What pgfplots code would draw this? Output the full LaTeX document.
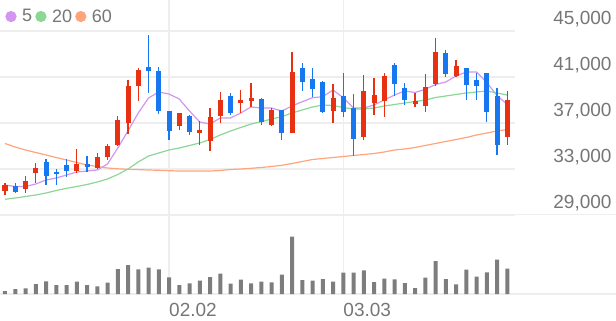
\documentclass[border=0pt]{standalone}
\usepackage{pgfplots}
\usepackage{pgfplotstable}
\pgfplotsset{compat=1.18}
\usepackage{fontspec}
\setmainfont{Liberation Sans}
\definecolor{upred}{RGB}{232,48,18}
\definecolor{downblue}{RGB}{22,119,238}
\definecolor{mafive}{RGB}{210,150,240}
\definecolor{matwenty}{RGB}{140,215,150}
\definecolor{masixty}{RGB}{255,165,125}
\definecolor{volgray}{RGB}{125,125,125}
\definecolor{gridgray}{RGB}{238,238,238}
\definecolor{labelgray}{RGB}{118,118,118}

\pgfplotstableread{
i o h l c v
0 31100 31800 30750 31600 30000
2 31300 32400 30900 32000 57000
3 32680 33520 31780 33110 100000
7 32850 34740 32630 33410 123000
9 33060 34390 32970 34070 77000
10 34040 35170 33800 35000 113000
11 35110 37580 34970 37290 250000
12 37000 40740 36040 40260 290000
13 40190 41780 38890 41640 247000
17 36740 37870 36390 37830 90000
19 36160 37170 35090 36430 133000
20 35460 38280 34590 37550 170000
21 37580 39720 37000 39000 203000
23 38740 39870 37840 39040 143000
24 38910 40520 38420 39150 107000
26 36830 38280 36780 38130 117000
28 36160 43200 36130 41460 573000
32 38040 40430 36970 39170 123000
35 35740 41170 35520 39810 237000
36 38770 40890 37700 39430 120000
37 38930 41320 37500 41060 153000
40 38650 39640 38420 38910 60000
41 38480 41260 37980 40160 163000
42 40350 44370 40260 43200 330000
44 41090 42440 41030 41960 97000
49 35780 39740 35090 39030 253000
}\up

\pgfplotstableread{
i o h l c v
1 31500 31800 30950 31000 50000
4 33580 33840 31610 32390 127000
5 32780 32960 31570 32570 90000
6 33350 33870 32330 32830 90000
8 33430 34170 32700 33200 90000
14 41870 44680 39610 41550 263000
15 41550 41840 37780 38020 247000
16 38020 38040 35550 36280 167000
18 37610 37700 35960 36260 107000
22 39320 39610 37700 37840 103000
25 39060 39150 36830 37110 123000
27 38130 38130 35520 36160 193000
29 41810 42190 39810 40590 140000
30 40830 41760 39290 40000 133000
31 40590 40650 37870 37980 150000
33 39320 41390 37550 37960 213000
34 38280 39520 34170 35610 213000
38 42040 42260 39350 40390 147000
39 40020 40480 38570 38960 110000
43 43110 43310 41030 41260 150000
45 41760 41760 39000 40310 243000
46 40700 41310 39000 40220 173000
47 41320 41390 37110 37960 217000
48 39320 40020 34260 35090 343000
}\down

\pgfplotstableread{
i m5 m20 m60
0 31609 30365 35218
1 31478 30478 34913
2 31478 30609 34652
3 31696 30739 34435
4 32044 30913 34218
5 32218 31131 34000
6 32478 31322 33783
7 32739 31478 33565
8 32826 31652 33348
9 32913 31870 33218
10 33435 32131 33087
11 34826 32522 33018
12 36305 33000 32974
13 37870 33609 32948
14 39174 34131 32913
15 39696 34392 32887
16 39522 34652 32852
17 39087 34826 32826
18 38044 35044 32826
19 37087 35261 32826
20 36913 35565 32826
21 37435 35957 32870
22 37435 36305 32957
23 37870 36609 33000
24 38392 36913 33061
25 38305 37113 33131
26 38305 37348 33218
27 38044 37548 33322
28 38479 37870 33478
29 38853 38131 33652
30 39200 38392 33826
31 39287 38566 33913
32 39870 38522 34000
33 39200 38348 34087
34 38305 38218 34174
35 38305 38218 34261
36 38566 38305 34348
37 39000 38479 34478
38 39435 38609 34652
39 39783 38740 34739
40 39653 38870 34870
41 39931 39000 35044
42 40348 39218 35218
43 40566 39348 35392
44 41087 39479 35565
45 41435 39609 35739
46 41435 39696 35957
47 40522 39783 36131
48 39392 39609 36305
49 38609 39435 36435
}\ma

\begin{document}
\begin{tikzpicture}
\useasboundingbox (0pt,0pt) rectangle (616pt,-321pt);
\draw[gridgray, line width=1.2pt] (0pt,-214.5pt) -- (616pt,-214.5pt);
\draw[gridgray, line width=1.2pt] (0pt,-294pt) -- (616pt,-294pt);
\begin{axis}[
  at={(0pt,0pt)}, anchor=north west,
  width=515pt, height=215pt, scale only axis,
  xmin=-0.4878, xmax=49.756,
  ymin=29000, ymax=47696,
  scaled y ticks=false, scaled x ticks=false,
  axis line style={draw=none},
  tick style={draw=none},
  xtick={16,33}, xticklabels={},
  xmajorgrids, ymajorgrids,
  grid style={gridgray, line width=1.2pt},
  ytick={29000,33000,37000,41000,45000},
  yticklabels={{29,000},{33,000},{37,000},{41,000},{45,000}},
  yticklabel pos=right,
  yticklabel style={anchor=base east, inner sep=0pt, xshift=96.7pt, yshift=7pt,
    font=\fontsize{19}{19}\selectfont, text=labelgray},
  clip=false,
  legend columns=-1,
  legend style={at={(0,1)}, anchor=north west, xshift=5.4pt, yshift=-9.5pt,
    draw=none, fill=none, inner sep=0pt, outer sep=0pt,
    font=\fontsize{18}{18}\selectfont, text=labelgray,
    nodes={inner sep=0pt},
    /tikz/every even column/.append style={column sep=3.2pt},
    /tikz/every odd column/.append style={column sep=5.5pt}},
  legend image code/.code={\fill (5pt,0pt) circle (5pt);},
]
\addplot[mafive, line width=1.2pt] table[x=i, y=m5] {\ma};
\addlegendentry{5\hspace{8pt}}
\addplot[matwenty, line width=1.2pt] table[x=i, y=m20] {\ma};
\addlegendentry{20}
\addplot[masixty, line width=1.2pt] table[x=i, y=m60] {\ma};
\addlegendentry{60}
% wicks
\addplot[draw=none, mark=none, forget plot,
  error bars/.cd, y dir=both, y explicit, error mark=none,
  error bar style={draw=upred, line width=1.3pt}]
  table[x=i, y expr={(\thisrow{h}+\thisrow{l})/2}, y error expr={(\thisrow{h}-\thisrow{l})/2}] {\up};
\addplot[draw=none, mark=none, forget plot,
  error bars/.cd, y dir=both, y explicit, error mark=none,
  error bar style={draw=downblue, line width=1.3pt}]
  table[x=i, y expr={(\thisrow{h}+\thisrow{l})/2}, y error expr={(\thisrow{h}-\thisrow{l})/2}] {\down};
% bodies
\addplot[draw=none, mark=none, forget plot,
  error bars/.cd, y dir=both, y explicit, error mark=none,
  error bar style={draw=upred, line width=5pt}]
  table[x=i, y expr={(\thisrow{o}+\thisrow{c})/2}, y error expr={abs(\thisrow{c}-\thisrow{o})/2}] {\up};
\addplot[draw=none, mark=none, forget plot,
  error bars/.cd, y dir=both, y explicit, error mark=none,
  error bar style={draw=downblue, line width=5pt}]
  table[x=i, y expr={(\thisrow{o}+\thisrow{c})/2}, y error expr={abs(\thisrow{c}-\thisrow{o})/2}] {\down};
\end{axis}
\begin{axis}[
  at={(0pt,-214pt)}, anchor=north west,
  width=515pt, height=80pt, scale only axis,
  xmin=-0.4878, xmax=49.756,
  ymin=0, ymax=800000,
  scaled y ticks=false, scaled x ticks=false,
  axis line style={draw=none},
  tick style={draw=none},
  ytick=\empty,
  xtick={16,33}, xticklabels={02.02,03.03},
  xmajorgrids,
  grid style={gridgray, line width=1.2pt},
  xticklabel style={anchor=base west, inner sep=0pt, yshift=-22.5pt,
    font=\fontsize{19}{19}\selectfont, text=labelgray},
]
\addplot[ybar, bar width=4pt, bar shift=0pt, fill=volgray, draw=none] table[x=i, y=v] {\up};
\addplot[ybar, bar width=4pt, bar shift=0pt, fill=volgray, draw=none] table[x=i, y=v] {\down};
\end{axis}
\end{tikzpicture}
\end{document}
